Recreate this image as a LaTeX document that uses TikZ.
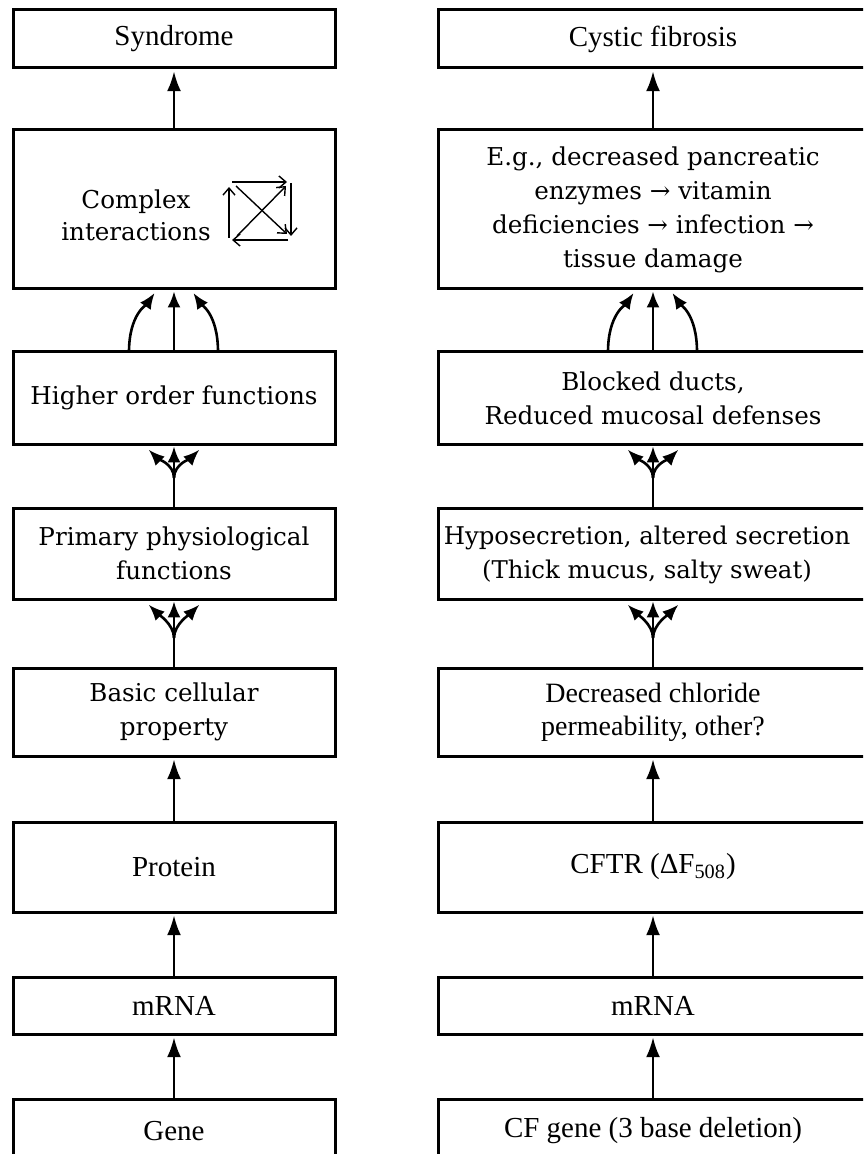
\documentclass[tikz,border=0pt]{standalone}
\usepackage{fontspec}
\setmainfont{DejaVu Serif}
\newfontfamily\tms{Liberation Serif}
\usetikzlibrary{arrows.meta,calc}
\begin{document}
\begin{tikzpicture}[x=0.5pt,y=-0.5pt,
  box/.style={draw, line width=1.5pt, inner sep=0pt, outer sep=0pt, align=center,
    font=\fontsize{12.3}{17}\selectfont},
  lbox/.style={box, minimum width=161pt},
  rbox/.style={box, minimum width=215pt},
  tbox/.style={font=\tms\fontsize{14.5}{17}\selectfont},
  sbox/.style={font=\tms\fontsize{14}{16.5}\selectfont},
  arr/.style={line width=1.3pt, -{Latex[length=10pt,width=7pt]}, shorten >=1.6pt},
  farr/.style={line width=1.3pt, -{Latex[length=8pt,width=6.5pt]}, shorten >=1.2pt},
  stem/.style={line width=1.3pt},
  iarr/.style={line width=0.7pt, -{Straight Barb[length=3.5pt,width=6pt]}}
]
\useasboundingbox (0,0) rectangle (863,1154);
\clip (0,0) rectangle (863,1154);

% left column
\node[lbox, tbox, minimum height=29pt] (syn) at (174,39) {Syndrome};
\node[lbox, minimum height=79.5pt] (cx) at (174,209.5) {};
\node[align=center, font=\fontsize{12.3}{16}\selectfont] (cxt) at (136,215) {Complex\\interactions};
\node[lbox, minimum height=46pt] (hof) at (174,398) {Higher order functions};
\node[lbox, minimum height=45.5pt] (ppf) at (174,553.5) {Primary physiological\\functions};
\node[lbox, minimum height=44pt] (bcp) at (174,712) {Basic cellular\\property};
\node[lbox, tbox, minimum height=45pt] (pro) at (174,867) {Protein};
\node[lbox, tbox, minimum height=28.5pt] (mr) at (174,1005.5) {mRNA};
\node[lbox, tbox, minimum height=32pt] (gene) at (174,1131) {Gene};

% right column
\node[rbox, tbox, minimum height=29pt] (cf) at (653,39) {Cystic fibrosis};
\node[rbox, minimum height=79.5pt] (eg) at (653,209.5) {E.g., decreased pancreatic\\enzymes → vitamin\\deficiencies → infection →\\tissue damage};
\node[rbox, minimum height=46pt] (bd) at (653,398) {Blocked ducts,\\Reduced mucosal defenses};
\node[rbox, minimum height=45.5pt] (hyp) at (653,553.5) {};
\node[align=center, font=\fontsize{12.2}{17}\selectfont] (hypt) at (647,555) {Hyposecretion, altered secretion\\(Thick mucus, salty sweat)};
\node[rbox, sbox, minimum height=44pt] (dcp) at (653,712) {Decreased chloride\\permeability, other?};
\node[rbox, tbox, minimum height=45pt] (cftr) at (653,867) {CFTR (ΔF\textsubscript{508})};
\node[rbox, tbox, minimum height=28.5pt] (mr2) at (653,1005.5) {mRNA};
\node[rbox, tbox, minimum height=32pt] (cfg) at (653,1131) {CF gene (3 base deletion)};

% simple arrows
\draw[arr] (cx.north) -- (syn.south);
\draw[arr] (eg.north) -- (cf.south);
\draw[arr] (pro.north) -- (bcp.south);
\draw[arr] (mr.north) -- (pro.south);
\draw[arr] (gene.north) -- (mr.south);
\draw[arr] (cftr.north) -- (dcp.south);
\draw[arr] (mr2.north) -- (cftr.south);
\draw[arr] (cfg.north) -- (mr2.south);

% converging fans
\foreach \lo/\up in {ppf/hof, bcp/ppf, hyp/bd, dcp/hyp}{
  \draw[stem] (\lo.north) -- ++(0,-30) coordinate (fa);
  \draw[farr] (fa) -- (\up.south);
  \draw[farr] (fa) .. controls +(0,-14) and +(10,10) .. ($(\up.south)+(-27,4)$);
  \draw[farr] (fa) .. controls +(0,-14) and +(-10,10) .. ($(\up.south)+(27,4)$);
}

% diverging arcs
\foreach \lo/\up in {hof/cx, bd/eg}{
  \draw[farr] (\lo.north) -- (\up.south);
  \draw[farr] ($(\lo.north)+(-45,0)$) .. controls +(0,-38) and +(-9,13) .. ($(\up.south)+(-18,2)$);
  \draw[farr] ($(\lo.north)+(44,0)$) .. controls +(0,-38) and +(9,13) .. ($(\up.south)+(18,2)$);
}

% interaction icon
\draw[iarr] (232,182) -- (287,182);
\draw[iarr] (291,183) -- (291,236);
\draw[iarr] (288,240) -- (232,240);
\draw[iarr] (229,238) -- (229,187);
\draw[iarr] (236,186) -- (287,234);
\draw[iarr] (237,236) -- (286,186);
\end{tikzpicture}
\end{document}
